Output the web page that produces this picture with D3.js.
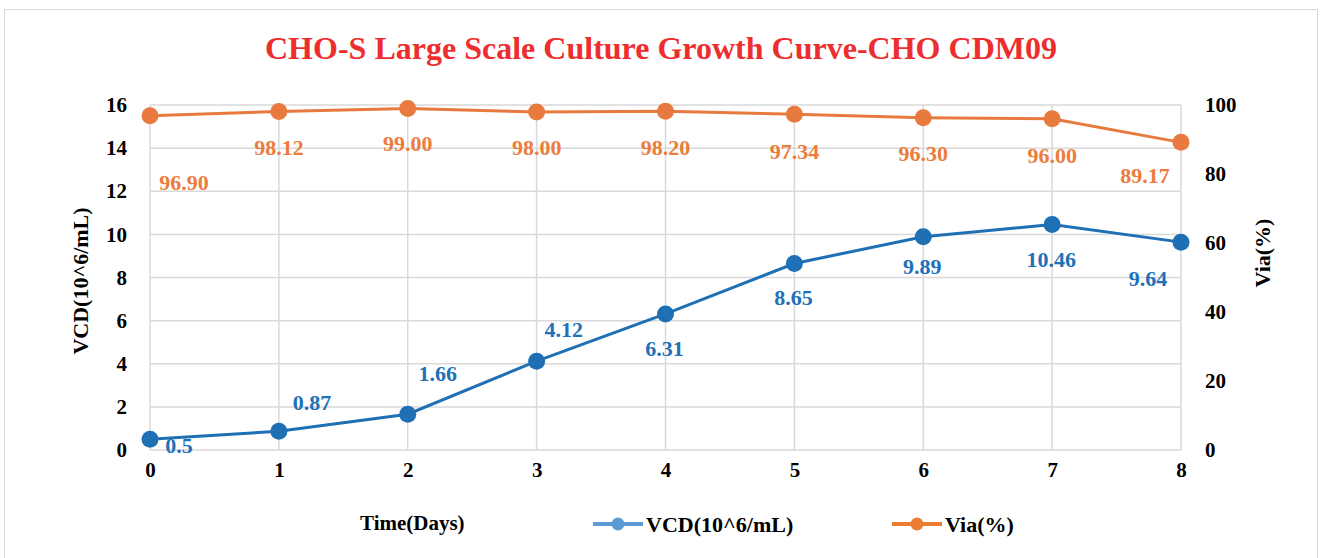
<!DOCTYPE html>
<html>
<head>
<meta charset="utf-8">
<script src="https://cdn.jsdelivr.net/npm/d3@7"></script>
<style>
  body { margin: 0; background: #fff; }
  text { font-family: "Liberation Serif", "Times New Roman", serif; font-weight: bold; }
</style>
</head>
<body>
<div id="chart"></div>
<script>
// data
var days = [0, 1, 2, 3, 4, 5, 6, 7, 8];
var vcd = [0.5, 0.87, 1.66, 4.12, 6.31, 8.65, 9.89, 10.46, 9.64];
var via = [96.90, 98.12, 99.00, 98.00, 98.20, 97.34, 96.30, 96.00, 89.17];
var vcdLabels = ["0.5", "0.87", "1.66", "4.12", "6.31", "8.65", "9.89", "10.46", "9.64"];
var viaLabels = ["96.90", "98.12", "99.00", "98.00", "98.20", "97.34", "96.30", "96.00", "89.17"];
var leftTicks = [0, 2, 4, 6, 8, 10, 12, 14, 16];
var rightTicks = [0, 20, 40, 60, 80, 100];

// label offsets (excel-ish placement), in px relative to the point
var vcdOff = [[29, 6], [33, -29], [30, -41], [27, -32], [-1, 34], [-1, 34], [-1, 30], [-1, 35], [-33, 36]];
var viaOff = [[34, 67], [0, 36], [0, 35], [0, 35], [0, 36], [0, 37], [0, 36], [0, 36], [-36, 33]];

var width = 1322, height = 558;
var margin = { top: 105, right: 141, bottom: 108, left: 150 };

var blue = "#1F6FB5", orange = "#E97A3F";

var svg = d3.select("#chart").append("svg")
    .attr("width", width)
    .attr("height", height);

// outer frame
svg.append("rect")
    .attr("x", 4.5).attr("y", 9.5)
    .attr("width", 1313).attr("height", 560)
    .attr("fill", "none")
    .attr("stroke", "#d9d9d9");

var x = d3.scaleLinear().domain([0, 8]).range([margin.left, width - margin.right]);
var yL = d3.scaleLinear().domain([0, 16]).range([height - margin.bottom, margin.top]);
var yR = d3.scaleLinear().domain([0, 100]).range([height - margin.bottom, margin.top]);

// grid
svg.append("g").selectAll("line")
    .data(leftTicks).enter().append("line")
    .attr("x1", x(0)).attr("x2", x(8))
    .attr("y1", function (d) { return yL(d); })
    .attr("y2", function (d) { return yL(d); })
    .attr("stroke", "#d9d9d9").attr("stroke-width", 1.5);

svg.append("g").selectAll("line")
    .data(days).enter().append("line")
    .attr("x1", function (d) { return x(d); })
    .attr("x2", function (d) { return x(d); })
    .attr("y1", yL(0)).attr("y2", yL(16))
    .attr("stroke", "#d9d9d9").attr("stroke-width", 1.5);

// axes (labels only)
var axL = svg.append("g")
    .attr("transform", "translate(" + (margin.left - 23) + ",0)")
    .call(d3.axisLeft(yL).tickValues(leftTicks).tickSize(0).tickPadding(0));
var axR = svg.append("g")
    .attr("transform", "translate(" + (width - margin.right + 24) + ",0)")
    .call(d3.axisRight(yR).tickValues(rightTicks).tickSize(0).tickPadding(0));
var axB = svg.append("g")
    .attr("transform", "translate(0," + (yL(0) + 12) + ")")
    .call(d3.axisBottom(x).tickValues(days).tickFormat(d3.format("d")).tickSize(0).tickPadding(0));

[axL, axR, axB].forEach(function (a) {
    a.select(".domain").remove();
    a.selectAll("text")
        .style("font-family", "'Liberation Serif', 'Times New Roman', serif")
        .style("font-weight", "bold")
        .style("font-size", "21px")
        .attr("fill", "#000");
});

// title
svg.append("text")
    .attr("x", width / 2).attr("y", 59)
    .attr("text-anchor", "middle")
    .attr("fill", "#EE2E2E")
    .attr("textLength", 792)
    .attr("lengthAdjust", "spacingAndGlyphs")
    .style("font-size", "32px")
    .text("CHO-S Large Scale Culture Growth Curve-CHO CDM09");

// axis titles
svg.append("text")
    .attr("transform", "translate(88,281) rotate(-90)")
    .attr("text-anchor", "middle")
    .style("font-size", "22px")
    .text("VCD(10^6/mL)");

svg.append("text")
    .attr("transform", "translate(1270,253) rotate(-90)")
    .attr("text-anchor", "middle")
    .style("font-size", "22px")
    .text("Via(%)");

svg.append("text")
    .attr("x", 360).attr("y", 530)
    .style("font-size", "21px")
    .text("Time(Days)");

// lines
var vcdLine = d3.line().x(function (d, i) { return x(days[i]); }).y(function (d) { return yL(d); });
var viaLine = d3.line().x(function (d, i) { return x(days[i]); }).y(function (d) { return yR(d); });

svg.append("path").datum(vcd)
    .attr("d", vcdLine).attr("fill", "none")
    .attr("stroke", blue).attr("stroke-width", 3);
svg.append("path").datum(via)
    .attr("d", viaLine).attr("fill", "none")
    .attr("stroke", orange).attr("stroke-width", 3);

svg.append("g").selectAll("circle")
    .data(vcd).enter().append("circle")
    .attr("cx", function (d, i) { return x(days[i]); })
    .attr("cy", function (d) { return yL(d); })
    .attr("r", 8.5).attr("fill", blue);
svg.append("g").selectAll("circle")
    .data(via).enter().append("circle")
    .attr("cx", function (d, i) { return x(days[i]); })
    .attr("cy", function (d) { return yR(d); })
    .attr("r", 8.5).attr("fill", orange);

// data labels
svg.append("g").selectAll("text")
    .data(vcd).enter().append("text")
    .attr("x", function (d, i) { return x(days[i]) + vcdOff[i][0]; })
    .attr("y", function (d, i) { return yL(d) + vcdOff[i][1]; })
    .attr("dy", "0.35em")
    .attr("text-anchor", "middle")
    .attr("fill", "#2271B8")
    .style("font-size", "22px")
    .text(function (d, i) { return vcdLabels[i]; });

svg.append("g").selectAll("text")
    .data(via).enter().append("text")
    .attr("x", function (d, i) { return x(days[i]) + viaOff[i][0]; })
    .attr("y", function (d, i) { return yR(d) + viaOff[i][1]; })
    .attr("dy", "0.35em")
    .attr("text-anchor", "middle")
    .attr("fill", "#EB7C3C")
    .style("font-size", "22px")
    .text(function (d, i) { return viaLabels[i]; });

// legend
var legend = [
    { name: "VCD(10^6/mL)", color: "#5B9BD5", x: 593 },
    { name: "Via(%)", color: "#ED7D31", x: 892 }
];
var lg = svg.append("g").selectAll("g")
    .data(legend).enter().append("g")
    .attr("transform", function (d) { return "translate(" + d.x + ",524)"; });
lg.append("line")
    .attr("x1", 0).attr("x2", 50)
    .attr("stroke", function (d) { return d.color; })
    .attr("stroke-width", 4);
lg.append("circle")
    .attr("cx", 25).attr("r", 6.5)
    .attr("fill", function (d) { return d.color; });
lg.append("text")
    .attr("x", 53).attr("y", 8)
    .style("font-size", "22px")
    .text(function (d) { return d.name; });
</script>
</body>
</html>
